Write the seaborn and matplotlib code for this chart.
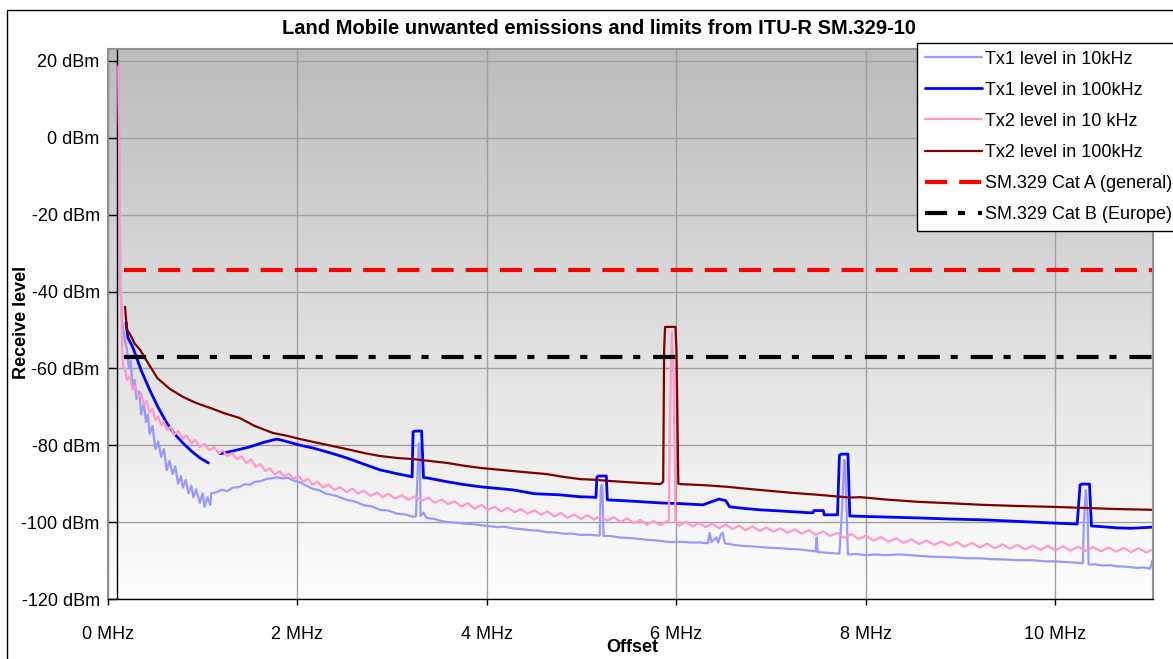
import numpy as np
import pandas as pd
import matplotlib
matplotlib.use('Agg')
import matplotlib.pyplot as plt
import seaborn as sns
from matplotlib.patches import Rectangle
from matplotlib.colors import LinearSegmentedColormap

# ---- data (x in MHz, y in dBm) ----
tx1_10k_x = [0.11, 0.12, 0.13, 0.15, 0.18, 0.20, 0.22, 0.24, 0.26, 0.28, 0.30, 0.33, 0.35, 0.38, 0.40, 0.42,
             0.44, 0.47, 0.50, 0.53, 0.56, 0.59, 0.62, 0.65, 0.68, 0.71, 0.74, 0.77, 0.79, 0.82, 0.85, 0.88,
             0.90, 0.93, 0.97, 1.00, 1.02, 1.05, 1.08, 1.09, 1.15, 1.20, 1.26, 1.32, 1.38, 1.45, 1.50, 1.55,
             1.62, 1.68, 1.74, 1.78, 1.84, 1.90, 1.96, 2.03, 2.10, 2.16, 2.23, 2.30, 2.40, 2.52, 2.60, 2.70,
             2.78, 2.87, 2.96, 3.05, 3.14, 3.22, 3.25, 3.27, 3.28, 3.29, 3.30, 3.33, 3.36, 3.45, 3.52, 3.58,
             3.66, 3.76, 3.85, 3.93, 4.02, 4.10, 4.18, 4.27, 4.36, 4.45, 4.54, 4.63, 4.72, 4.80, 4.90, 4.98,
             5.08, 5.19, 5.20, 5.21, 5.22, 5.23, 5.30, 5.40, 5.48, 5.58, 5.70, 5.80, 5.93, 6.05, 6.15, 6.25,
             6.33, 6.35, 6.37, 6.42, 6.44, 6.47, 6.49, 6.51, 6.60, 6.70, 6.80, 6.88, 7.00, 7.10, 7.20, 7.30,
             7.40, 7.47, 7.48, 7.49, 7.60, 7.72, 7.75, 7.77, 7.78, 7.80, 7.81, 7.90, 8.00, 8.10, 8.20, 8.35,
             8.46, 8.58, 8.70, 8.85, 8.95, 9.07, 9.20, 9.30, 9.45, 9.59, 9.75, 9.90, 10.00, 10.10, 10.20,
             10.29, 10.30, 10.32, 10.34, 10.35, 10.42, 10.50, 10.58, 10.65, 10.75, 10.85, 10.93, 11.00,
             11.02, 11.03]
tx1_10k_y = [18.5, -10, -38, -48, -53, -55, -60, -58, -65, -63, -68, -66, -72, -69, -74, -72,
             -77, -75, -81, -79, -83, -81, -86.5, -84, -87.5, -85.5, -90, -88, -91, -89, -92.5, -90.5,
             -93.5, -91.5, -95, -92.5, -96, -93.5, -95.5, -92.5, -92.2, -91.6, -91.9, -91.0, -90.9, -90.1, -90.3, -89.5,
             -89.3, -88.7, -88.6, -88.3, -88.6, -88.5, -89.2, -89.7, -90.6, -91.3, -91.7, -92.6, -93.1, -94.2, -94.6, -95.6,
             -95.9, -96.8, -97.0, -97.8, -98.0, -98.6, -98.5, -86, -79.5, -80, -98.4, -97.5, -98.9, -99.2, -99.7, -100,
             -100.1, -100.4, -100.5, -100.8, -101, -101.3, -101.2, -101.6, -101.8, -102.1, -102.2, -102.6, -102.7, -103.0, -103.0, -103.3,
             -103.3, -103.5, -92, -90.3, -92, -103.6, -103.6, -104, -104.1, -104.3, -104.6, -104.8, -105.2, -105.1, -105.3, -105.3,
             -105.5, -102.8, -105.2, -104, -105.3, -103, -102.8, -105.5, -105.9, -106.2, -106.3, -106.5, -106.7, -106.8, -107, -107.1,
             -107.4, -107.6, -104, -107.8, -108, -108.2, -96, -83.8, -84.5, -100, -108.4, -108.3, -108.6, -108.4, -108.6, -108.4,
             -108.6, -108.8, -109, -109.1, -109.2, -109.4, -109.4, -109.6, -109.7, -109.9, -109.9, -110.2, -110.2, -110.4, -110.5,
             -110.7, -100, -91.6, -98, -111, -111, -111.3, -111.2, -111.5, -111.6, -111.9, -111.8, -112.1,
             -110.2, -111]

# NaN marks the gap between the two parts of the trace
tx1_100k_x = [0.19, 0.21, 0.26, 0.35, 0.44, 0.53, 0.62, 0.70, 0.79, 0.88, 0.97, 1.06, 1.12,
              1.18, 1.30, 1.50, 1.65, 1.78, 1.82, 2.03, 2.16, 2.35, 2.52, 2.70, 2.87, 3.05, 3.21, 3.22,
              3.24, 3.31, 3.33, 3.37, 3.58, 3.75, 3.93, 4.10, 4.27, 4.50, 4.77, 4.98, 5.12, 5.15, 5.16,
              5.18, 5.26, 5.27, 5.50, 5.83, 6.05, 6.28, 6.38, 6.45, 6.52, 6.56, 6.70, 6.88, 7.10, 7.30,
              7.44, 7.45, 7.55, 7.56, 7.70, 7.72, 7.74, 7.81, 7.83, 8.10, 8.54, 8.90, 9.23, 9.60, 9.94,
              10.23, 10.26, 10.28, 10.36, 10.38, 10.50, 10.65, 10.80, 11.03]
tx1_100k_y = [-48, -52, -54.4, -60.5, -65.6, -70.2, -74.2, -77, -79.4, -81.5, -83.3, -84.6, np.nan,
              -82.2, -81.6, -80.4, -79.2, -78.4, -78.6, -80, -80.7, -82, -83.3, -84.9, -86.4, -87.4, -88.2, -76.5,
              -76.3, -76.3, -88.4, -88.5, -89.5, -90.2, -90.8, -91.2, -91.6, -92.6, -92.9, -93.4, -93.5, -93.6, -88.3,
              -88, -88, -94.2, -94.5, -95, -95.2, -95.5, -94.6, -94.0, -94.4, -96, -96.4, -96.8, -97.1, -97.4,
              -97.6, -97, -97, -98.1, -98.1, -82.6, -82.3, -82.3, -98.4, -98.6, -98.9, -99.2, -99.4, -99.8, -100.2,
              -100.5, -90.3, -90.1, -90.1, -101, -101.2, -101.5, -101.6, -101.3]

tx2_10k_x = [0.11, 0.12, 0.13, 0.15, 0.16, 0.18, 0.20, 0.23, 0.26, 0.29, 0.32, 0.35, 0.38, 0.41, 0.44, 0.47,
             0.50, 0.53, 0.56, 0.59, 0.62, 0.66, 0.70, 0.74, 0.79, 0.83, 0.88, 0.92, 0.97, 1.02, 1.07, 1.12,
             1.17, 1.21, 1.26, 1.31, 1.36, 1.41, 1.46, 1.51, 1.56, 1.61, 1.66, 1.71, 1.76, 1.81, 1.86, 1.91,
             1.96, 2.01, 2.06, 2.11, 2.16, 2.21, 2.27, 2.33, 2.39, 2.45, 2.52, 2.58, 2.64, 2.70, 2.77, 2.84,
             2.90, 2.96, 3.03, 3.10, 3.17, 3.24, 3.31, 3.38, 3.45, 3.52, 3.59, 3.66, 3.73, 3.80, 3.87, 3.94,
             4.01, 4.08, 4.15, 4.22, 4.29, 4.36, 4.43, 4.50, 4.57, 4.64, 4.71, 4.78, 4.85, 4.92, 4.99, 5.06,
             5.13, 5.20, 5.27, 5.34, 5.41, 5.48, 5.55, 5.62, 5.69, 5.76, 5.83, 5.90, 5.92, 5.93, 5.95, 5.97,
             5.99, 6.03, 6.10, 6.17, 6.24, 6.31, 6.38, 6.45, 6.52, 6.59, 6.66, 6.73, 6.80, 6.88, 6.95, 7.02,
             7.10, 7.17, 7.25, 7.32, 7.40, 7.47, 7.55, 7.62, 7.70, 7.77, 7.85, 7.92, 8.00, 8.08, 8.16, 8.24,
             8.32, 8.40, 8.48, 8.56, 8.64, 8.72, 8.80, 8.88, 8.96, 9.04, 9.12, 9.20, 9.28, 9.36, 9.44, 9.52,
             9.60, 9.68, 9.76, 9.84, 9.92, 10.00, 10.08, 10.16, 10.24, 10.32, 10.40, 10.48, 10.56, 10.64,
             10.72, 10.80, 10.88, 10.96, 11.03]
tx2_10k_y = [18.5, -5, -35, -55, -59.6, -60, -63, -62, -65.5, -64.5, -67.5, -66.5, -69.5, -68.5, -71.5, -70.5,
             -73.5, -72.5, -74.8, -73.8, -76, -75.2, -77.3, -76.3, -78.3, -77.4, -79.5, -78.6, -80.5, -79.6, -81.3, -80.5,
             -82.2, -81.3, -82.8, -82, -83.6, -82.9, -84.6, -83.7, -85.6, -84.9, -86.7, -86, -87.6, -86.8, -88.1, -87.4,
             -88.8, -87.9, -89.5, -88.7, -90.3, -89.5, -91, -90.2, -91.6, -90.9, -92.2, -91.3, -92.6, -91.8, -93.2, -92.3,
             -93.5, -92.6, -93.9, -93, -94.2, -93.3, -94.5, -93.6, -95, -94.1, -95.3, -94.6, -95.9, -95.1, -96.5, -95.5,
             -96.8, -96, -97.2, -96.3, -97.4, -96.6, -97.8, -96.9, -98.1, -97.2, -98.5, -97.6, -98.9, -98, -99.2, -98.2,
             -99.3, -98.4, -99.6, -98.7, -100, -99, -100.3, -99.4, -100.7, -99.7, -100.8, -99.8, -99.5, -75, -50.8, -62,
             -100, -100.9, -99.9, -101.1, -100.2, -101.3, -100.4, -101.6, -100.6, -101.8, -100.9, -102.1, -101.1, -102.3, -101.4, -102.5,
             -101.6, -102.8, -101.9, -103, -102.1, -103.3, -102.4, -103.6, -102.8, -104.1, -103.1, -104.4, -103.5, -104.8, -103.9, -105.1,
             -104.2, -105.4, -104.5, -105.7, -104.8, -105.9, -105, -106.1, -105.2, -106.4, -105.4, -106.6, -105.6, -106.8, -105.8, -106.9,
             -105.9, -107.1, -106.1, -107.2, -106.2, -107.3, -106.3, -107.4, -106.4, -107.5, -106.5, -107.6, -106.6, -107.7,
             -106.7, -107.8, -106.8, -107.9, -107]

tx2_100k_x = [0.18, 0.19, 0.20, 0.23, 0.28, 0.34, 0.42, 0.52, 0.65, 0.79, 0.93, 1.08, 1.22, 1.39, 1.55, 1.74,
              1.90, 2.03, 2.16, 2.35, 2.52, 2.70, 2.87, 3.05, 3.22, 3.40, 3.58, 3.75, 3.93, 4.10, 4.27, 4.45,
              4.63, 4.80, 4.98, 5.15, 5.30, 5.55, 5.83, 5.86, 5.87, 5.88, 5.99, 6.00, 6.02, 6.04, 6.30, 6.53,
              6.78, 7.00, 7.23, 7.50, 7.83, 7.94, 8.20, 8.54, 8.90, 9.23, 9.60, 9.94, 10.30, 10.65, 11.03]
tx2_100k_y = [-44, -47, -50, -51, -53.5, -55.2, -58.5, -62.5, -65.3, -67.4, -69, -70.3, -71.6, -72.9, -75, -76.8,
              -77.6, -78.4, -79.1, -80.1, -81, -82, -82.8, -83.3, -83.6, -84.1, -84.6, -85.3, -85.9, -86.3, -86.7, -87.1,
              -87.5, -88.2, -88.8, -89, -89.3, -89.7, -90.1, -89.5, -55, -49.2, -49.2, -55, -90, -90.1, -90.4, -90.8,
              -91.4, -91.9, -92.4, -92.9, -93.6, -93.5, -94.1, -94.7, -95.1, -95.5, -95.8, -96, -96.3, -96.6, -96.8]

cat_a_level = -34.3
cat_b_level = -57
limit_start = 0.17

x_ticks = [0, 2, 4, 6, 8, 10]
x_tick_labels = ['0 MHz', '2 MHz', '4 MHz', '6 MHz', '8 MHz', '10 MHz']
y_ticks = [-120, -100, -80, -60, -40, -20, 0, 20]
y_tick_labels = ['-120 dBm', '-100 dBm', '-80 dBm', '-60 dBm', '-40 dBm', '-20 dBm', '0 dBm', '20 dBm']

x_max = 11.03
y_min, y_max = -120, 23.1

series = [
    ('Tx1 level in 10kHz', tx1_10k_x, tx1_10k_y, '#9999ff', 1.6),
    ('Tx1 level in 100kHz', tx1_100k_x, tx1_100k_y, '#0000ff', 2.0),
    ('Tx2 level in 10 kHz', tx2_10k_x, tx2_10k_y, '#ff99cc', 1.6),
    ('Tx2 level in 100kHz', tx2_100k_x, tx2_100k_y, '#800000', 1.6),
]

sns.set_theme(style='white')
plt.rcParams['font.family'] = ['Liberation Sans', 'DejaVu Sans']
plt.rcParams['text.color'] = 'black'
plt.rcParams['xtick.color'] = 'black'
plt.rcParams['ytick.color'] = 'black'

W, H = 1173, 659
fig = plt.figure(figsize=(W / 100, H / 100), dpi=100)
ax = fig.add_axes([108 / W, 1 - 599 / H, (1153 - 108) / W, (599 - 49) / H])

# grey-to-white gradient plot area
bg = LinearSegmentedColormap.from_list('bg', ['#ffffff', '#bcbcbc'])
grad = np.linspace(0, 1, 256).reshape(-1, 1)
ax.imshow(grad, cmap=bg, extent=[0, 1, 0, 1], transform=ax.transAxes,
          aspect='auto', origin='lower', zorder=0)

for label, xs, ys, color, lw in series:
    df = pd.DataFrame({'x': xs, 'y': ys})
    df['seg'] = df['y'].isna().cumsum()
    df = df.dropna()
    for i, (seg, part) in enumerate(df.groupby('seg')):
        sns.lineplot(data=part, x='x', y='y', ax=ax, color=color, lw=lw,
                     sort=False, estimator=None, label=label if i == 0 else None)

ax.plot([limit_start, x_max], [cat_a_level, cat_a_level], color='#ff0000', lw=3,
        linestyle=(0, (5.3, 2.9)), label='SM.329 Cat A (general)')
ax.plot([limit_start, x_max], [cat_b_level, cat_b_level], color='black', lw=3,
        linestyle=(0, (5.3, 2.6, 1.7, 3.1)), label='SM.329 Cat B (Europe)')

# y axis line sits just right of 0 MHz
ax.axvline(0.1, color='black', lw=1, zorder=1)

ax.set_xlim(0, x_max)
ax.set_ylim(y_min, y_max)
ax.set_xticks(x_ticks)
ax.set_xticklabels(x_tick_labels)
ax.set_yticks(y_ticks)
ax.set_yticklabels(y_tick_labels)
ax.set_xlabel('')
ax.set_ylabel('')
ax.grid(True, color='#a0a0a0', lw=1)
ax.set_axisbelow(True)

for side in ['top', 'right', 'left']:
    ax.spines[side].set_color('#909090')
    ax.spines[side].set_linewidth(1.5)
ax.spines['bottom'].set_color('black')
ax.spines['bottom'].set_linewidth(1)

ax.tick_params(axis='y', direction='in', length=6.5, width=1, color='black', labelcolor='black',
               pad=6, labelsize=13, left=True)
ax.tick_params(axis='x', direction='out', length=4.5, width=1, color='black', labelcolor='black',
               pad=15, labelsize=13, bottom=True)

# legend runs off the right edge, as in the original
leg = ax.legend(loc='upper left', bbox_to_anchor=(917 / W, 1 - 43 / H), bbox_transform=fig.transFigure,
                borderaxespad=0, fontsize=13, frameon=True, fancybox=False, framealpha=1,
                edgecolor='black', handlelength=3.2, handletextpad=0.15, labelspacing=0.78, borderpad=0.42)
leg.get_frame().set_linewidth(1)
for t in leg.get_texts():
    t.set_color('black')

fig.text(599 / W, 1 - 28 / H, 'Land Mobile unwanted emissions and limits from ITU-R SM.329-10',
         ha='center', va='center', fontsize=14.5, fontweight='bold')
fig.text(22 / W, 1 - 322 / H, 'Receive level', rotation=90, ha='center', va='center',
         fontsize=13, fontweight='bold')
fig.text(632 / W, 1 - 648 / H, 'Offset', ha='center', va='center', fontsize=13, fontweight='bold')

fig.patches.append(Rectangle((7 / W, -0.1), 1.2, 1.1 - 10 / H, transform=fig.transFigure,
                             fill=False, edgecolor='black', lw=1))

fig.savefig('out.png', dpi=100)
